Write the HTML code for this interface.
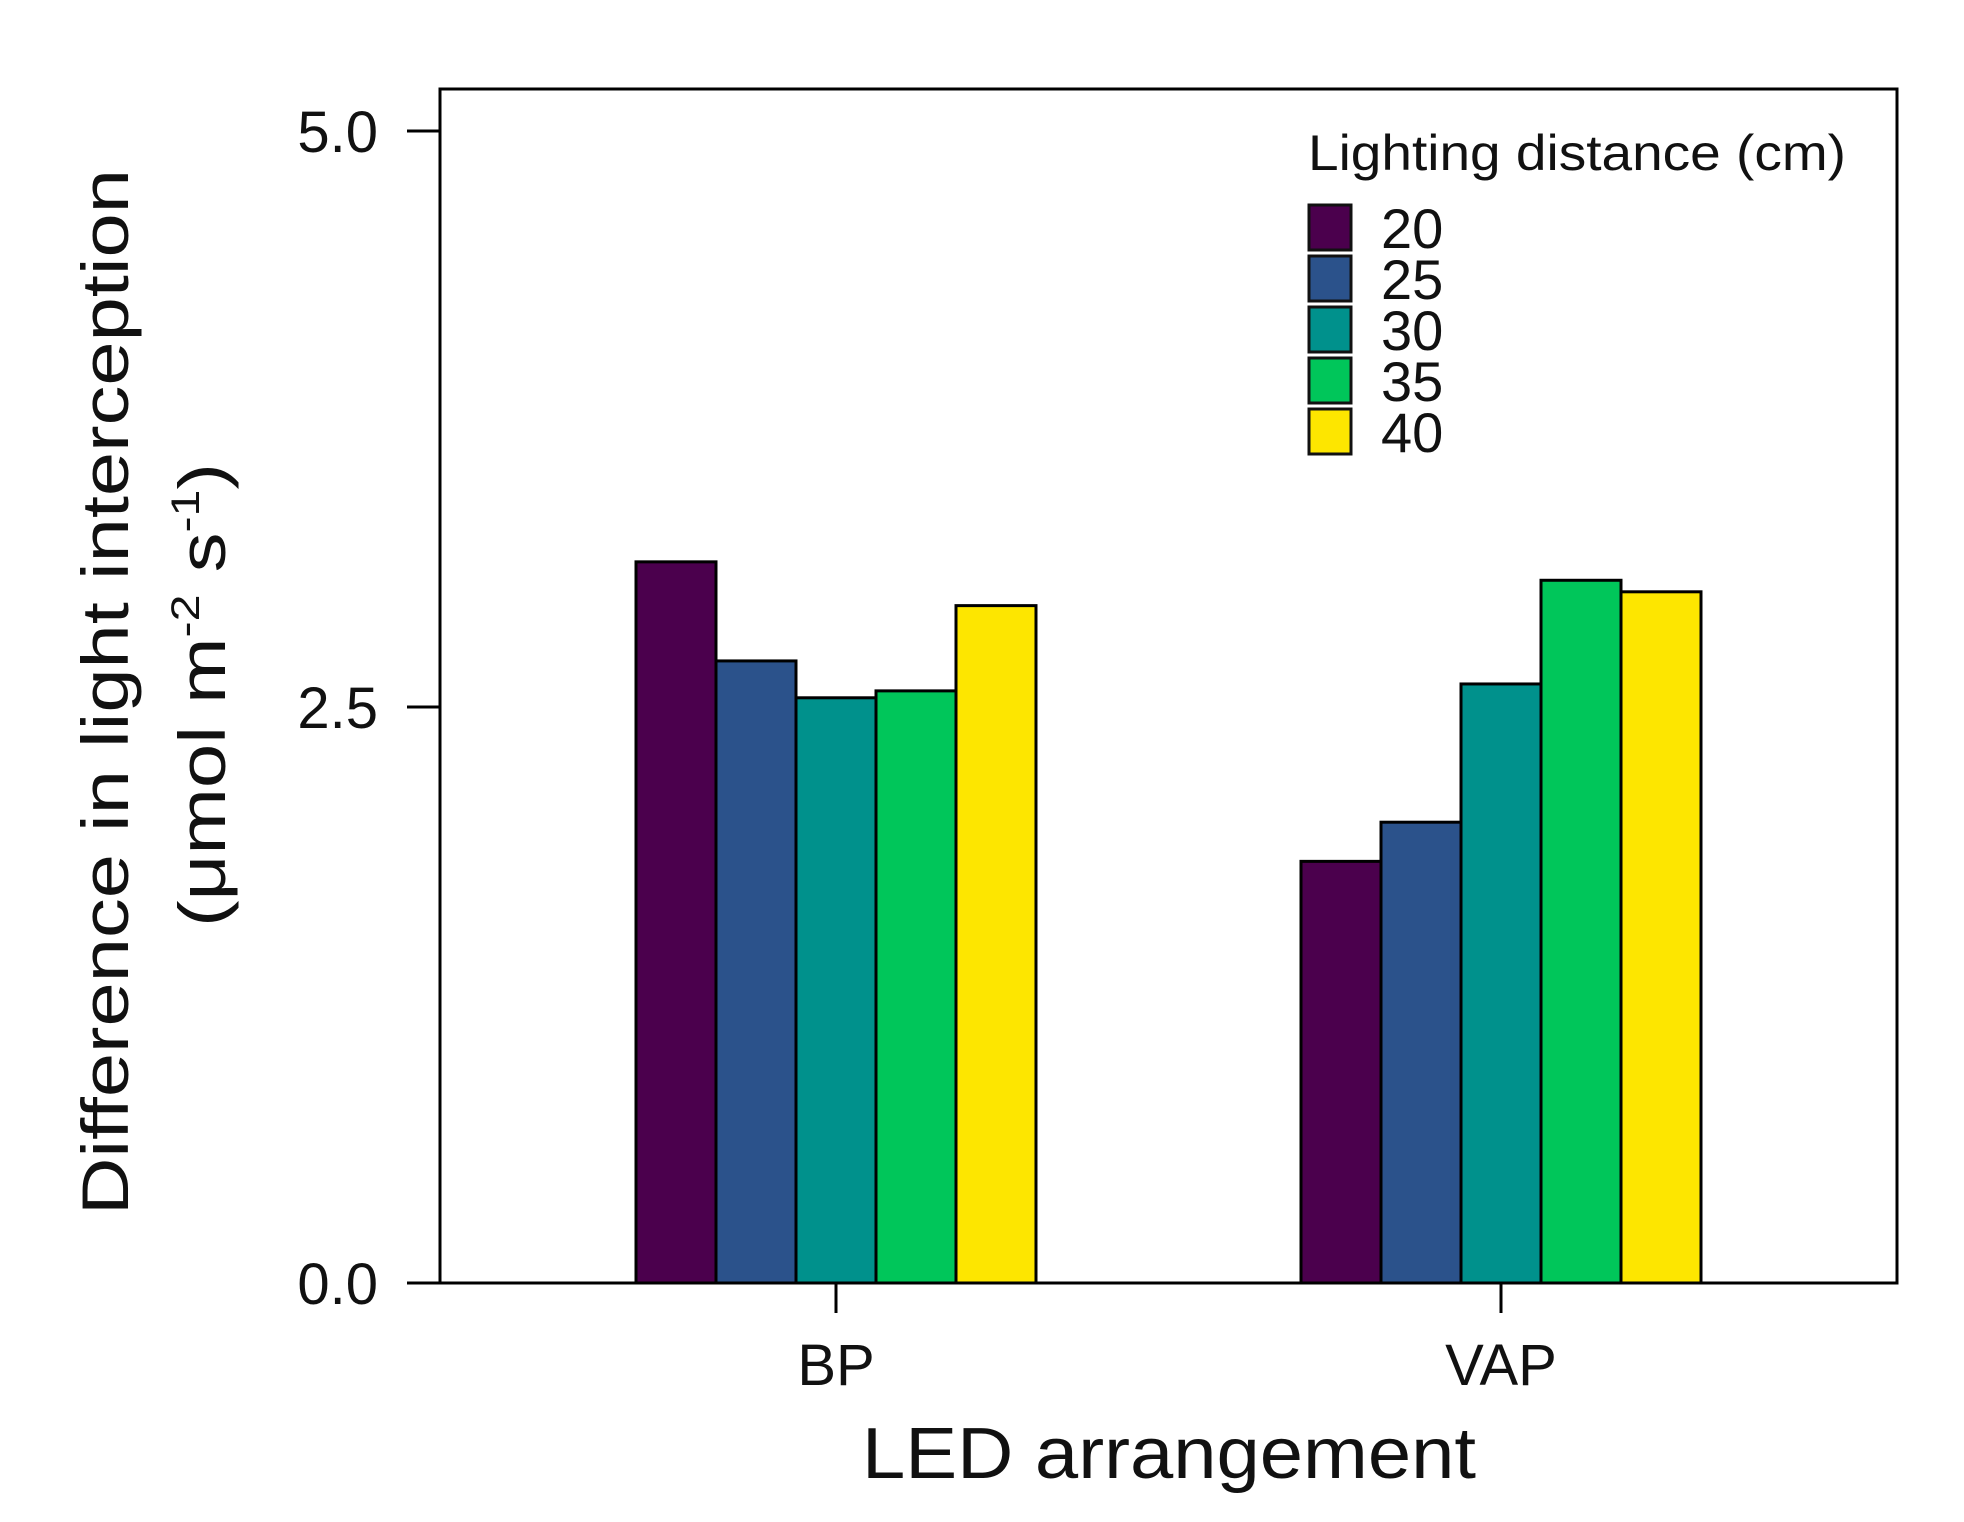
<!DOCTYPE html>
<html><head><meta charset="utf-8"><style>
html,body{margin:0;padding:0;background:#fff;}
svg{display:block;font-family:"Liberation Sans",Arial,sans-serif;}
</style></head><body>
<svg id="chart" width="1964" height="1522" viewBox="0 0 1964 1522" xmlns="http://www.w3.org/2000/svg">
<rect x="0" y="0" width="1964" height="1522" fill="#fff"/>
<g id="bars"></g>
<rect x="440" y="89" width="1457" height="1194" fill="none" stroke="#000" stroke-width="3"/>
<g id="yaxis"></g>
<g id="xaxis"></g>
<g id="legend">
<text x="1308" y="170" font-size="50" textLength="538" lengthAdjust="spacingAndGlyphs" fill="#111">Lighting distance (cm)</text>
</g>
<text x="1169" y="1478" font-size="72" text-anchor="middle" textLength="614" lengthAdjust="spacingAndGlyphs" fill="#111">LED arrangement</text>
<g transform="translate(128,692) rotate(-90)">
<text x="0" y="0" font-size="66" text-anchor="middle" textLength="1046" lengthAdjust="spacingAndGlyphs" fill="#111">Difference in light interception</text>
<text x="-3" y="97" font-size="66" text-anchor="middle" textLength="464" lengthAdjust="spacingAndGlyphs" fill="#111">(μmol m<tspan font-size="40" dy="-26">-2</tspan><tspan dy="26"> s</tspan><tspan font-size="40" dy="-26">-1</tspan><tspan dy="26">)</tspan></text>
</g>
</svg>
<script>
const categories = ["BP", "VAP"];
const seriesNames = ["20", "25", "30", "35", "40"];
const seriesColors = ["#4b004d", "#2b528b", "#00918c", "#00c65a", "#fde600"];
const bp = [3.13, 2.70, 2.54, 2.57, 2.94];
const vap = [1.83, 2.00, 2.60, 3.05, 3.00];
const yTicks = [0, 2.5, 5];
const yTickLabels = ["0.0", "2.5", "5.0"];

const NS = "http://www.w3.org/2000/svg";
const plotTop = 131, plotBottom = 1283, yMax = 5;
function yScale(v){ return plotBottom - v / yMax * (plotBottom - plotTop); }
const catCenters = [836, 1501];
const barW = 80;
function xScale(ci, si){ return catCenters[ci] + (si - seriesNames.length/2) * barW; }
function mk(tag, attrs){ const e = document.createElementNS(NS, tag); for (const k in attrs) e.setAttribute(k, attrs[k]); return e; }

const barsG = document.getElementById('bars');
const values = [bp, vap];
values.forEach((arr, ci) => {
  arr.forEach((v, si) => {
    const r = mk('rect', {x: xScale(ci, si), y: yScale(v), width: barW, height: plotBottom - yScale(v), fill: seriesColors[si], stroke: '#000', 'stroke-width': 3});
    
    
    barsG.appendChild(r);
  });
});

const yG = document.getElementById('yaxis');
yTicks.forEach((t, i) => {
  const y = yScale(t);
  const l = mk('line', {x1: 407, x2: 440, y1: y, y2: y, stroke: '#000', 'stroke-width': 3});
  
  
  yG.appendChild(l);
  const tx = mk('text', {x: 378, y: y + 21, 'font-size': 58, 'text-anchor': 'end', fill: '#111'});
  tx.textContent = yTickLabels[i];
  
  
  yG.appendChild(tx);
});

const xG = document.getElementById('xaxis');
categories.forEach((c, i) => {
  const x = catCenters[i];
  const l = mk('line', {x1: x, x2: x, y1: 1283, y2: 1313, stroke: '#000', 'stroke-width': 3});
  
  
  xG.appendChild(l);
  const tx = mk('text', {x: x, y: 1385, 'font-size': 58, 'text-anchor': 'middle', fill: '#111'});
  tx.textContent = c;
  
  
  xG.appendChild(tx);
});

const lg = document.getElementById('legend');
seriesNames.forEach((n, i) => {
  const y = 205 + i * 51;
  const r = mk('rect', {x: 1309, y: y, width: 42, height: 45, fill: seriesColors[i], stroke: '#111', 'stroke-width': 3});
  
  
  lg.appendChild(r);
  const tx = mk('text', {x: 1381, y: y + 43, 'font-size': 56, fill: '#111'});
  tx.textContent = n;
  
  
  lg.appendChild(tx);
});
</script>
</body></html>
